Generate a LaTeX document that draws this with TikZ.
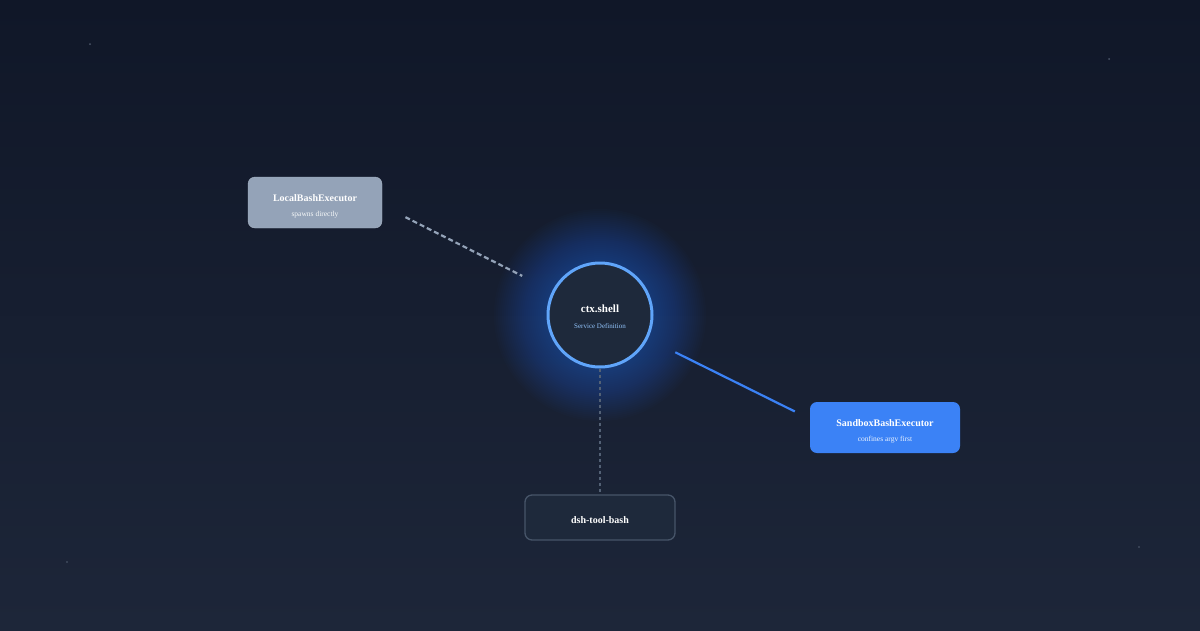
\documentclass[tikz,border=0pt]{standalone}
\usepackage{fontspec}
\setmainfont{Liberation Serif}
\usepackage{tikz}
\usetikzlibrary{arrows.meta, positioning, calc}
\definecolor{bgtop}{RGB}{16,23,40}
\definecolor{bgbot}{RGB}{29,38,57}
\definecolor{slatecol}{RGB}{148,163,184}
\definecolor{darkcol}{RGB}{30,41,59}
\definecolor{edgecol}{RGB}{71,85,105}
\definecolor{bluecol}{RGB}{59,130,246}
\definecolor{ringcol}{RGB}{96,165,250}
\definecolor{subcol}{RGB}{147,197,253}

\begin{document}
\begin{tikzpicture}[
  x=1pt, y=-1pt,
  box/.style={rounded corners=7pt, minimum width=134pt, minimum height=51pt,
              align=center, inner sep=0pt},
  link/.style={line width=2.2pt},
  star/.style={fill=slatecol, opacity=0.45}
]
  \useasboundingbox (0,0) rectangle (1200,630);
  \shade[top color=bgtop, bottom color=bgbot] (0,0) rectangle (1200,630);

  % faint stars
  \fill[star] (90,44) circle (1);
  \fill[star] (1109,59) circle (1);
  \fill[star] (67,562) circle (0.8);
  \fill[star] (1139,547) circle (0.8);

  % glow round the service
  \foreach \r in {106,104,...,54}
    \fill[bluecol, opacity=0.019] (600,315) circle (\r);

  \node[circle, draw=ringcol, line width=3pt, fill=darkcol,
        minimum size=104pt, inner sep=0pt, align=center] (shell) at (600,315)
    {{\fontsize{11}{13}\selectfont\bfseries\color{white}\rule{0pt}{12pt}ctx.shell}\\[4pt]
     {\fontsize{7}{8}\selectfont\color{subcol} Service Definition}};

  \node[box, fill=slatecol, draw=slatecol!80!white] (local) at (315,202.5)
    {{\fontsize{10}{11}\selectfont\bfseries\color{white}\rule{0pt}{15pt}LocalBashExecutor}\\[3pt]
     {\fontsize{7.5}{8}\selectfont\color{white!92!slatecol} spawns directly}};
  \node[box, fill=bluecol, minimum width=150pt] (sandbox) at (885,427.5)
    {{\fontsize{10}{11}\selectfont\bfseries\color{white}\rule{0pt}{15pt}SandboxBashExecutor}\\[3pt]
     {\fontsize{7.5}{8}\selectfont\color{white!90!bluecol} confines argv first}};
  \node[box, fill=darkcol, draw=edgecol, line width=1.3pt,
        minimum width=150pt, minimum height=45pt] (tool) at (600,517.5)
    {\fontsize{10}{11}\selectfont\bfseries\color{white}\rule{0pt}{12pt}dsh-tool-bash};

  \coordinate (sbin) at (810,419);

  \draw[link, slatecol, dash pattern=on 5pt off 3pt,
        shorten <=26pt, shorten >=87pt] ([yshift=-3pt]local.east) -- (shell.center);
  \draw[link, bluecol, shorten <=84pt, shorten >=17pt] (shell.center) -- (sbin);
  \draw[edgecol!85!slatecol, line width=1.3pt, dash pattern=on 3pt off 3pt]
    (shell.south) -- (tool.north);
\end{tikzpicture}
\end{document}
